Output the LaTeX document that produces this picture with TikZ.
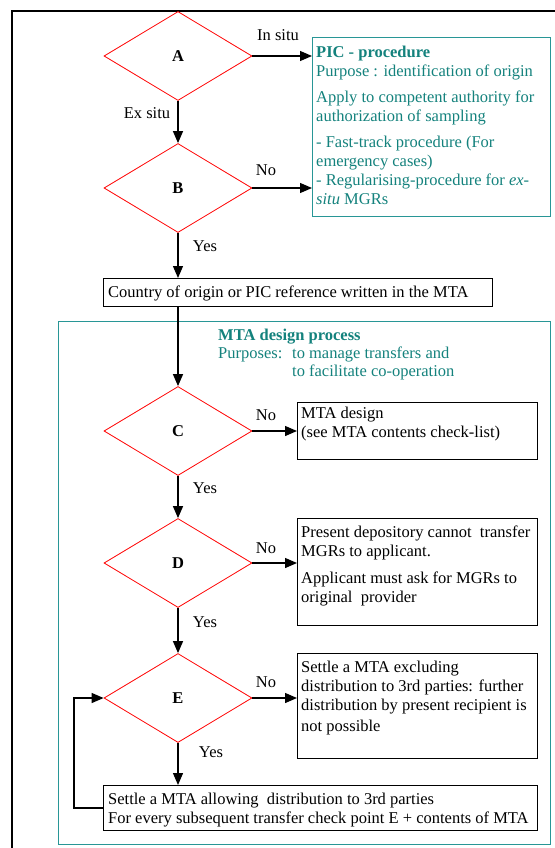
\documentclass[tikz,border=0pt]{standalone}
\usepackage{fontspec}
\setmainfont{Liberation Serif}
\usetikzlibrary{shapes.geometric,arrows.meta,calc}
\definecolor{tealtxt}{RGB}{20,130,125}
\definecolor{tealline}{RGB}{40,150,150}
\definecolor{dred}{RGB}{255,0,0}
\begin{document}
\begin{tikzpicture}[x=1pt,y=-1pt,
  every node/.style={font=\fontsize{16.5}{19}\selectfont},
  dia/.style={diamond, draw=dred, line width=0.8pt, minimum width=148pt, minimum height=89pt, inner sep=0pt, font=\fontsize{16.5}{19}\selectfont\bfseries},
  boxn/.style={draw=black, line width=1.2pt, anchor=north west, inner sep=0pt},
  tealbox/.style={draw=tealline, line width=1.3pt, anchor=north west, inner sep=0pt},
  txt/.style={anchor=north west, inner sep=0pt, align=left},
  lbl/.style={anchor=base, inner sep=0pt},
  arr/.style={line width=1.3pt, -{Triangle[length=12pt,width=10pt]}}
]
\useasboundingbox (0,0) rectangle (554,848);
\fill[white] (0,0) rectangle (554,848);
% outer frame
\draw[line width=2.5pt] (12,852) -- (12,11) -- (558,11);

% diamonds
\node[dia] (A) at (178,56) {A};
\node[dia] (B) at (178,188) {B};
\node[dia] (C) at (178,431) {C};
\node[dia] (D) at (178,563) {D};
\node[dia] (E) at (178,698) {E};

% PIC box
\node[tealbox, minimum width=238pt, minimum height=179pt] (pic) at (312,37) {};
\node[txt, text=tealtxt] (pictxt) at (316,45) {\rule{0pt}{12pt}\textbf{PIC - procedure}\\
Purpose : identification of origin\\[7pt]
Apply to competent authority for\\
authorization of sampling\\[7pt]
- Fast-track procedure (For\\
emergency cases)\\
- Regularising-procedure for \textit{ex-}\\
\textit{situ} MGRs};

% country box
\node[boxn, minimum width=389pt, minimum height=28pt] (country) at (103,278) {};
\node[anchor=base west, inner sep=0pt] (countrytxt) at (108,297) {Country of origin or PIC reference written in the MTA};

% MTA design process frame
\node[tealbox, minimum width=492pt, minimum height=523pt] (mta) at (58,321) {};
\node[txt, text=tealtxt, font=\fontsize{16.5}{18}\selectfont] (mtatxt) at (218,328) {\rule{0pt}{12pt}\textbf{MTA design process}\\
\makebox[74pt][l]{Purposes:}to manage transfers and\\
\hspace*{74pt}to facilitate co-operation};

% C box
\node[boxn, minimum width=240pt, minimum height=57pt] (cbox) at (297,402) {};
\node[txt] (ctxt) at (301,406) {\rule{0pt}{12pt}MTA design\\(see MTA contents check-list)};

% D box
\node[boxn, minimum width=240pt, minimum height=107pt] (dbox) at (297,518) {};
\node[txt] (dtxt) at (301,525) {\rule{0pt}{12pt}Present depository cannot\ \ transfer\\
MGRs to applicant.\\[8pt]
Applicant must ask for MGRs to\\
original\ \ provider};

% E box
\node[boxn, minimum width=240pt, minimum height=105pt] (ebox) at (297,653) {};
\node[txt] (etxt) at (301,660) {\rule{0pt}{12pt}Settle a MTA excluding\\
distribution to 3rd parties: further\\
distribution by present recipient is\\[2pt]
not possible};

% settle box
\node[boxn, minimum width=434pt, minimum height=45pt] (settle) at (103,785) {};
\node[txt] (settletxt) at (108,792) {\rule{0pt}{12pt}Settle a MTA allowing\ \ distribution to 3rd parties\\
For every subsequent transfer check point E + contents of MTA};

% connectors
\draw[arr] (A.east) -- (A.east -| pic.west);
\draw[arr] (A.south) -- (B.north);
\draw[arr] (B.east) -- (B.east -| pic.west);
\draw[arr] (B.south) -- (B.south |- country.north);
\draw[arr] (C.north |- country.south) -- (C.north);
\draw[arr] (C.east) -- (C.east -| cbox.west);
\draw[arr] (C.south) -- (D.north);
\draw[arr] (D.east) -- (D.east -| dbox.west);
\draw[arr] (D.south) -- (E.north);
\draw[arr] (E.east) -- (E.east -| ebox.west);
\draw[arr] (E.south) -- (E.south |- settle.north);
\draw[arr] (settle.west) -- ++(-29,0) |- (E.west);

% labels
\node[lbl] (lin) at (278,41) {In situ};
\node[lbl] (lex) at (147,118) {Ex situ};
\node[lbl] (lnoB) at (266,175) {No};
\node[lbl] (lyesB) at (205,251) {Yes};
\node[lbl] (lnoC) at (266,420) {No};
\node[lbl] (lyesC) at (205,493) {Yes};
\node[lbl] (lnoD) at (266,553) {No};
\node[lbl] (lyesD) at (205,627) {Yes};
\node[lbl] (lnoE) at (266,687) {No};
\node[lbl] (lyesE) at (211,757) {Yes};
\end{tikzpicture}
\end{document}
